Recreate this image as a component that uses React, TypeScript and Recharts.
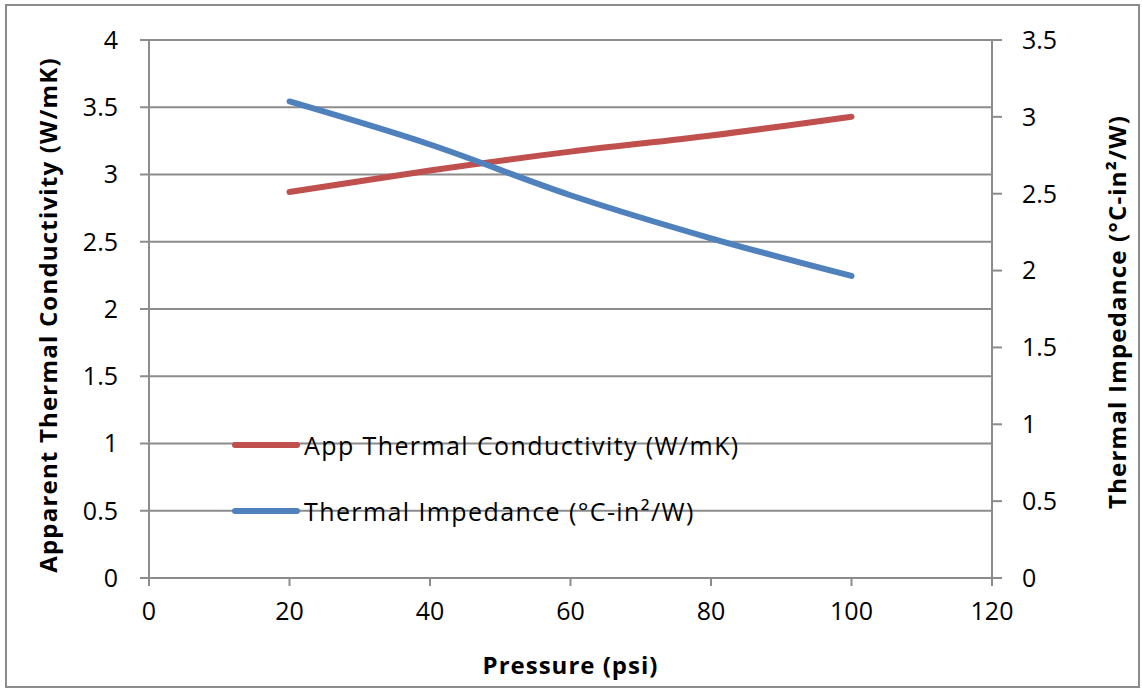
import React from "react";
import { LineChart, Line, XAxis, YAxis, CartesianGrid, Label } from "recharts";

const pressure = [20, 40, 60, 80, 100];
const conductivity = [2.87, 3.03, 3.17, 3.29, 3.43];
const impedance = [3.1, 2.82, 2.49, 2.21, 1.965];
const xTicks = [0, 20, 40, 60, 80, 100, 120];
const leftTicks = [0, 0.5, 1, 1.5, 2, 2.5, 3, 3.5, 4];
const rightTicks = [0, 0.5, 1, 1.5, 2, 2.5, 3, 3.5];
const seriesNames = ["App Thermal Conductivity (W/mK)", "Thermal Impedance (°C-in²/W)"];
const seriesColors = ["#C0504D", "#4F81BD"];

const data = pressure.map((p, i) => ({ p, k: conductivity[i], z: impedance[i] }));

const FONT = "'Open Sans', Lato, sans-serif";
const GRID = "#8c8c8c";

const LegendBox = () => (
  <div style={{ position: "absolute", left: 232, top: 412, fontFamily: FONT, fontSize: 25, letterSpacing: 1.4, color: "#000", lineHeight: "normal" }}>
    {seriesNames.map((n, i) => (
      <div key={n} style={{ display: "flex", alignItems: "center", height: 66, whiteSpace: "nowrap" }}>
        <div style={{ width: 68, height: 6, borderRadius: 3, background: seriesColors[i], marginRight: 4 }} />
        <span>{n}</span>
      </div>
    ))}
  </div>
);

export default function App() {
  return (
    <div style={{ position: "absolute", left: 0, top: 0, width: 1142, height: 690, background: "#fff" }}>
      <div style={{ position: "absolute", left: 5, top: 4, width: 1131, height: 680, border: "2px solid #8c8c8c", boxSizing: "content-box" }} />
      <div style={{ position: "absolute", left: 0, top: 0 }}>
        <LineChart width={1142} height={690} data={data} margin={{ top: 40, right: 20, bottom: 12, left: 20 }}>
          <CartesianGrid yAxisId="left" vertical={false} stroke={GRID} strokeWidth={2} />
          <XAxis
            dataKey="p"
            type="number"
            domain={[0, 120]}
            ticks={xTicks}
            height={100}
            tickSize={8}
            tickMargin={16}
            stroke={GRID}
            strokeWidth={2}
            tick={{ fill: "#000", fontSize: 25, fontFamily: FONT }}
          >
            <Label
              content={({ viewBox }: any) => (
                <text x={viewBox.x + viewBox.width / 2} y={viewBox.y + 96} textAnchor="middle" fontFamily={FONT} fontWeight="bold" fontSize={24} letterSpacing={1} fill="#000">
                  Pressure (psi)
                </text>
              )}
            />
          </XAxis>
          <YAxis
            yAxisId="left"
            orientation="left"
            domain={[0, 4]}
            ticks={leftTicks}
            width={129}
            tickSize={9}
            tickMargin={22}
            stroke={GRID}
            strokeWidth={2}
            tick={{ fill: "#000", fontSize: 25, fontFamily: FONT }}
          >
            <Label
              content={({ viewBox }: any) => {
                const cx = viewBox.x + 27;
                const cy = viewBox.y + viewBox.height / 2 + 6;
                return (
                  <text x={cx} y={cy} transform={`rotate(-90 ${cx} ${cy})`} textAnchor="middle" dominantBaseline="central" fontFamily={FONT} fontWeight="bold" fontSize={24} letterSpacing={1.2} fill="#000">
                    Apparent Thermal Conductivity  (W/mK)
                  </text>
                );
              }}
            />
          </YAxis>
          <YAxis
            yAxisId="right"
            orientation="right"
            domain={[0, 3.5]}
            ticks={rightTicks}
            width={130}
            tickSize={10}
            tickMargin={20}
            stroke={GRID}
            strokeWidth={2}
            tick={{ fill: "#000", fontSize: 25, fontFamily: FONT }}
          >
            <Label
              content={({ viewBox }: any) => {
                const cx = viewBox.x + 124;
                const cy = viewBox.y + viewBox.height / 2 + 3;
                return (
                  <text x={cx} y={cy} transform={`rotate(-90 ${cx} ${cy})`} textAnchor="middle" dominantBaseline="central" fontFamily={FONT} fontWeight="bold" fontSize={24} letterSpacing={1.2} fill="#000">
                    Thermal Impedance (°C-in²/W)
                  </text>
                );
              }}
            />
          </YAxis>
          <Line yAxisId="left" dataKey="k" name={seriesNames[0]} type="monotone" stroke={seriesColors[0]} strokeWidth={6} strokeLinecap="round" dot={false} isAnimationActive={false} />
          <Line yAxisId="right" dataKey="z" name={seriesNames[1]} type="monotone" stroke={seriesColors[1]} strokeWidth={6} strokeLinecap="round" dot={false} isAnimationActive={false} />
        </LineChart>
      </div>
      <LegendBox />
    </div>
  );
}
